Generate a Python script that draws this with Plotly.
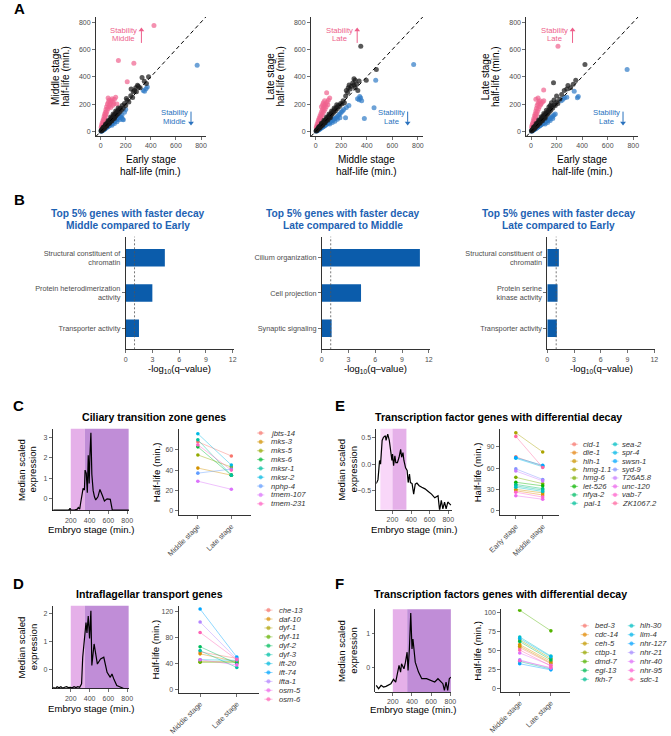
import math
import plotly.graph_objects as go

W, H = 671, 736
FONT = "Liberation Sans, Arial, Helvetica, sans-serif"

# ======================= DATA =======================
# ---- Panel A: half-life scatter (min.) ----
a1_black_x = [3,6,8,10,12,14,16,18,20,22,25,27,30,32,35,37,40,42,45,47,50,52,55,57,60,62,65,67,70,72,
              75,78,80,83,86,88,91,94,97,100,104,107,110,114,118,122,126,130,135,140,146,152,158,165,172,180,190,200,212,225,
              240,255,270,285,300,315,330,348,365,382,294,243,205,260,280,
              20,40,60,80,100,120,140,30,50,70,90,110]
a1_black_y = [5,4,10,8,14,11,18,15,24,19,28,24,34,29,40,33,45,39,51,44,57,49,62,54,68,59,73,63,79,68,
              84,73,90,79,96,84,101,89,108,95,116,101,122,108,130,115,140,124,150,132,160,142,172,155,190,170,205,190,228,215,
              262,248,300,290,330,320,395,368,350,400,339,311,241,290,320,
              30,55,80,105,128,150,172,22,40,58,76,94]
a1_pink_x = [425,142,265,212,5,8,10,12,15,18,20,22,25,28,30,33,35,38,40,43,45,48,50,55,58,62,65,70,72,78,
             85,92,100,110,60,120,95,130,80,105]
a1_pink_y = [775,520,500,363,30,45,25,60,40,75,55,90,70,110,85,125,100,140,115,160,130,180,145,200,165,215,180,230,195,210,
             225,240,215,235,245,250,190,200,175,200]
a1_blue_x = [769,362,350,372,340,181,5,8,12,15,18,22,25,28,32,35,40,45,50,55,60,65,70,75,80,85,90,95,100,105,
             110,115,120,125,130,135,140,150,160,165,170,150,130,110,90,190,200,175]
a1_blue_y = [485,313,295,325,300,85,2,3,5,8,9,12,15,14,18,22,24,28,30,35,38,40,45,48,52,58,60,65,68,72,
             75,80,85,88,95,92,100,105,110,100,118,85,70,58,45,140,160,90]

a2_black_x = [3,6,9,12,15,18,21,24,27,30,33,36,39,42,45,48,51,54,57,60,63,66,69,72,75,78,82,86,90,94,
              98,102,106,110,115,120,125,130,136,142,148,155,162,170,178,186,195,205,215,225,
              240,255,262,270,280,290,300,310,320,330,250,235,309,396,353,475,300,340,
              25,45,65,85,105,125,145,165,35,55,75,95,115]
a2_black_y = [4,8,7,13,16,17,23,22,30,29,36,34,42,41,49,46,55,52,62,58,68,64,75,70,82,76,88,84,97,92,
              106,100,115,108,124,118,135,128,148,140,160,152,175,168,190,182,205,200,225,210,
              300,320,340,310,330,355,340,320,345,300,285,260,375,375,623,453,385,370,
              35,60,82,105,128,150,172,195,28,46,64,82,100]
a2_pink_x = [86,5,8,10,12,15,18,20,23,26,29,32,35,38,41,44,47,50,54,58,62,66,70,74,78,82,60,45,90,95,70,100,110,55]
a2_pink_y = [283,28,40,22,55,38,70,50,85,65,100,80,115,95,130,108,145,120,160,135,175,150,190,165,200,180,210,180,215,195,225,230,245,195]
a2_blue_x = [767,470,457,381,234,328,340,352,360,345,5,10,15,20,25,30,35,40,45,50,55,60,65,70,75,80,85,90,95,100,
             105,110,115,120,125,130,135,140,150,160,170,180,190,200,210,150,130,110,170,190,220,240,260]
a2_blue_y = [490,375,174,94,101,240,232,245,225,255,2,5,7,10,14,16,20,23,27,30,33,36,40,42,46,50,52,56,60,62,
             66,70,72,76,80,84,88,90,95,100,110,120,130,140,150,75,65,55,90,100,160,175,190]

a3_black_x = [3,6,9,12,15,18,21,24,27,30,33,36,39,42,45,48,51,54,57,60,63,66,69,72,75,78,82,86,90,94,
              98,102,106,110,115,120,125,130,136,142,148,155,162,170,180,190,200,210,225,240,
              260,289,176,350,330,310,280,422,200,180,160,150,
              20,40,60,80,100,120,140,30,50,70,90,110]
a3_black_y = [5,4,11,10,18,16,25,22,32,28,39,34,46,40,53,46,60,52,67,58,74,64,81,70,88,76,96,84,105,92,
              114,100,122,108,130,118,140,128,152,140,165,155,180,172,195,190,215,205,235,270,
              300,336,356,375,345,320,310,490,260,230,210,190,
              32,58,84,108,132,155,178,24,42,60,78,96]
a3_pink_x = [211,99,38,55,5,8,10,12,15,18,20,22,25,28,30,33,35,38,40,43,45,48,50,55,58,62,65,70,75,80,90,100]
a3_pink_y = [623,303,235,245,30,45,25,60,40,78,55,95,70,115,85,130,100,150,115,170,130,190,145,205,165,215,180,225,195,205,215,225]
a3_blue_x = [752,338,363,262,237,370,250,280,5,10,15,20,25,30,35,40,45,50,55,60,65,70,75,80,85,90,95,100,105,110,
             115,120,125,130,140,150,160,170,180,190,110,130,150,170]
a3_blue_y = [453,295,247,247,224,255,235,250,2,5,8,11,14,17,20,24,27,30,34,37,40,44,47,50,54,57,60,64,67,70,
             74,77,80,84,90,96,104,112,120,128,55,65,80,95]

a_x_labels = ["Early stage", "Middle stage", "Early stage"]
a_y_labels = ["Middle stage", "Late stage", "Late stage"]
a_stab_labels = ["Middle", "Late", "Late"]
a_ticks = [0, 200, 400, 600, 800]

# ---- Panel B: GO enrichment ----
b_titles = ["Middle compared to Early", "Late compared to Middle", "Late compared to Early"]
b1_terms = ["Structural constituent of<br>chromatin", "Protein heterodimerization<br>activity", "Transporter activity"]
b1_vals = [4.4, 3.0, 1.5]
b2_terms = ["Cilium organization", "Cell projection", "Synaptic signaling"]
b2_vals = [11.0, 4.4, 1.1]
b3_terms = ["Structural constituent of<br>chromatin", "Protein serine<br>kinase activity", "Transporter activity"]
b3_vals = [1.3, 1.15, 1.07]
b_threshold = 1.0
b_ticks = [0, 3, 6, 9, 12]

# ---- Panels C-F: median scaled expression over embryo stage ----
c_stage = [15, 50, 90, 130, 170, 185, 192, 200, 240, 270, 280, 295, 305, 317, 331, 345, 352, 365, 376, 386,
           396, 403, 414, 424, 438, 452, 465, 489, 510, 534, 558, 586, 620, 641, 700, 760, 820]
c_expr = [-0.54, -0.55, -0.54, -0.55, -0.54, -0.52, -0.45, -0.53, -0.54, -0.50, -0.42, -0.50, -0.20, 0.27, 0.51, 0.43, 1.40, 1.24, 0.30, 2.12,
          0.75, 2.04, 3.22, 1.20, 0.40, 0.10, -0.05, 0.10, 0.46, 0.19, -0.10, 0.00, -0.02, -0.53, -0.54, -0.55, -0.55]
d_stage = [15, 35, 55, 75, 95, 115, 135, 155, 175, 195, 215, 235, 255, 275, 295, 315, 327, 345, 362, 372,
           386, 400, 414, 424, 448, 483, 517, 551, 586, 620, 638, 660, 689, 720, 758, 790, 820]
d_expr = [-0.62, -0.66, -0.60, -0.64, -0.60, -0.65, -0.62, -0.60, -0.63, -0.62, -0.64, -0.60, -0.63, -0.60, -0.62, -0.50, 0.44, 0.97, 1.67, 1.30,
          1.90, 1.10, 2.08, 0.15, 0.91, 0.20, 0.38, 0.44, -0.09, -0.27, -0.15, -0.35, -0.56, -0.60, -0.66, -0.68, -0.68]
e_stage = [26, 44, 54, 61, 72, 89, 103, 124, 131, 149, 166, 184, 194, 201, 212, 226, 236, 253, 271, 288,
           299, 313, 323, 341, 358, 369, 383, 393, 411, 428, 445, 463, 487, 515, 550, 585, 620, 655, 690, 707,
           725, 742, 760, 777, 795, 812, 829]
e_expr = [-0.37, -0.30, -0.09, 0.07, 0.00, 0.45, 0.51, 0.54, 0.45, 0.57, 0.45, 0.13, 0.07, 0.19, -0.03, 0.16, 0.03, 0.03, 0.13, 0.28,
          0.13, 0.22, 0.07, -0.07, -0.12, -0.35, -0.19, -0.35, -0.37, -0.57, -0.38, -0.36, -0.41, -0.44, -0.47, -0.52, -0.57, -0.64, -0.60, -0.88,
          -0.69, -0.85, -0.72, -0.85, -0.72, -0.75, -0.78]
f_stage = [27, 52, 78, 103, 129, 155, 180, 207, 230, 265, 281, 291, 316, 332, 349, 359, 373, 387, 400, 410,
           434, 468, 502, 552, 603, 637, 671, 722, 738, 755, 772, 789, 806]
f_expr = [-0.55, -0.65, -0.55, -0.60, -0.58, -0.55, -0.50, -0.37, -0.45, 0.05, -0.15, 0.10, -0.05, 0.15, 0.45, -0.10, 0.55, 1.63, 0.55, 0.85,
          0.15, -0.15, -0.35, -0.35, -0.40, -0.45, -0.35, -0.50, -0.70, -0.45, -0.70, -0.35, -0.30]

# stage windows (min.)
early_window = [70, 200]
middle_window = [200, 350]
late_window = [350, 830]

# ---- half-life per gene (min.) ----
c_genes = ["jbts-14", "mks-3", "mks-5", "mks-6", "mksr-1", "mksr-2", "nphp-4", "tmem-107", "tmem-231"]
c_first = [68, 42, 55, 63, 70, 76, 37, 29, 65]
c_second = [54, 35, 43, 35, 35, 45, 41, 21, 40]

d_genes = ["che-13", "daf-10", "dyf-1", "dyf-11", "dyf-2", "dyf-3", "ift-20", "ift-74", "ifta-1", "osm-5", "osm-6"]
d_first = [58, 55, 43, 42, 66, 60, 46, 124, 104, 46, 88]
d_second = [48, 43, 43, 42, 40, 34, 45, 50, 47, 38, 46]

e_genes = ["cid-1", "die-1", "hlh-1", "hmg-1.1", "hmg-6", "let-526", "nfya-2", "pal-1",
           "sea-2", "spr-4", "swsn-1", "syd-9", "T26A5.8", "unc-120", "vab-7", "ZK1067.2"]
e_first = [76, 28, 30, 110, 47, 40, 37, 35, 33, 74, 75, 59, 56, 21, 26, 105]
e_second = [63, 22, 25, 83, 38, 35, 31, 29, 27, 62, 64, 44, 42, 16, 19, 61]

f_genes = ["bed-3", "cdc-14", "ceh-5", "ctbp-1", "dmd-7", "egl-13", "fkh-7",
           "hlh-30", "lim-4", "nhr-127", "nhr-21", "nhr-40", "nhr-95", "sdc-1"]
f_first = [54, 58, 56, 64, 103, 62, 36, 68, 66, 33, 38, 47, 37, 51]
f_second = [33, 36, 34, 40, 76, 38, 26, 43, 42, 25, 27, 31, 28, 30]

# ======================= HELPERS =======================
def hcl_hex(h, c=100.0, l=65.0):
    hr = math.radians(h)
    U, V = c * math.cos(hr), c * math.sin(hr)
    Xn, Yn, Zn = 95.047, 100.0, 108.883
    Y = Yn * (((l + 16) / 116) ** 3 if l > 8 else l / 903.3)
    d = Xn + 15 * Yn + 3 * Zn
    un, vn = 4 * Xn / d, 9 * Yn / d
    u = U / (13 * l) + un
    v = V / (13 * l) + vn
    X = 9.0 * Y * u / (4 * v)
    Z = -X / 3 - 5 * Y + 3 * Y / v
    X, Y, Z = X / 100, Y / 100, Z / 100
    r = 3.240479 * X - 1.537150 * Y - 0.498535 * Z
    g = -0.969256 * X + 1.875992 * Y + 0.041556 * Z
    b = 0.055648 * X - 0.204043 * Y + 1.057311 * Z

    def gc(t):
        t = 12.92 * t if t <= 0.0031308 else 1.055 * t ** (1 / 2.4) - 0.055
        return int(round(max(0, min(1, t)) * 255))
    return "#%02X%02X%02X" % (gc(r), gc(g), gc(b))


def hue_pal(n):
    return [hcl_hex(15 + 360.0 * i / n) for i in range(n)]


def rgba(hx, a):
    hx = hx.lstrip("#")
    return "rgba(%d,%d,%d,%.2f)" % (int(hx[0:2], 16), int(hx[2:4], 16), int(hx[4:6], 16), a)


layout = dict(width=W, height=H, margin=dict(l=0, r=0, t=0, b=0),
              paper_bgcolor="white", plot_bgcolor="rgba(0,0,0,0)",
              showlegend=False, font=dict(family=FONT, color="#000"))
traces, shapes, annotations = [], [], []

AX = dict(showline=True, linecolor="black", linewidth=0.8, ticks="outside", ticklen=3,
          tickwidth=0.7, tickcolor="#333", showgrid=False, zeroline=False, fixedrange=True,
          tickfont=dict(size=7, color="#4D4D4D", family=FONT))
_n = [0]


def new_axes(xpx, ypx, xr, yr, xkw=None, ykw=None):
    _n[0] += 1
    k = _n[0]
    s = "" if k == 1 else str(k)
    xa = dict(AX)
    xa.update(domain=[xpx[0] / W, xpx[1] / W], range=xr, anchor="y" + s)
    if xkw:
        xa.update(xkw)
    ya = dict(AX)
    ya.update(domain=[1 - ypx[1] / H, 1 - ypx[0] / H], range=yr, anchor="x" + s)
    if ykw:
        ya.update(ykw)
    layout["xaxis" + s] = xa
    layout["yaxis" + s] = ya
    return "x" + s, "y" + s


def text(x, y, s, size=10, color="#000", bold=False, italic=False, angle=0, xanchor="center", yanchor="middle"):
    if bold:
        s = "<b>%s</b>" % s
    if italic:
        s = "<i>%s</i>" % s
    annotations.append(dict(x=x / W, y=1 - y / H, xref="paper", yref="paper", text=s, showarrow=False,
                            font=dict(size=size, color=color, family=FONT), textangle=angle,
                            xanchor=xanchor, yanchor=yanchor, borderpad=0))


PINK, BLUE = "#F0628E", "#2F7BC6"
PINK_T, BLUE_T = "#EE5F8B", "#2A72BE"
BAR_BLUE = "#0B5CAB"
TITLE_BLUE = "#1D62B3"
C_EARLY, C_MID, C_LATE = "#F9D7F9", "#E5B0E9", "#C08DD7"

# ======================= PANEL A =======================
A_XDOM = [(85.1, 198.4), (306.0, 421.3), (527.3, 642.6)]
A_YDOM = (17.1, 137.0)
A_XR, A_YR = [-38, 840], [-34, 838]
a_sets = [(a1_black_x, a1_black_y, a1_pink_x, a1_pink_y, a1_blue_x, a1_blue_y),
          (a2_black_x, a2_black_y, a2_pink_x, a2_pink_y, a2_blue_x, a2_blue_y),
          (a3_black_x, a3_black_y, a3_pink_x, a3_pink_y, a3_blue_x, a3_blue_y)]
for i, (bx, by, px_, py_, ux, uy) in enumerate(a_sets):
    xa, ya = new_axes(A_XDOM[i], A_YDOM, A_XR, A_YR,
                      xkw=dict(tickvals=a_ticks), ykw=dict(tickvals=a_ticks))
    traces.append(go.Scatter(x=px_, y=py_, mode="markers", xaxis=xa, yaxis=ya,
                             marker=dict(size=5, color=rgba(PINK, 0.7))))
    traces.append(go.Scatter(x=ux, y=uy, mode="markers", xaxis=xa, yaxis=ya,
                             marker=dict(size=5, color=rgba(BLUE, 0.7))))
    traces.append(go.Scatter(x=bx, y=by, mode="markers", xaxis=xa, yaxis=ya,
                             marker=dict(size=5, color="rgba(25,25,25,0.72)")))
    traces.append(go.Scatter(x=A_XR, y=A_XR, mode="lines", xaxis=xa, yaxis=ya,
                             line=dict(color="black", width=1, dash="4px,3px")))
    x0 = A_XDOM[i][0]
    cx = (A_XDOM[i][0] + A_XDOM[i][1]) / 2
    text(cx, 161, a_x_labels[i], size=10)
    text(cx, 172.5, "half-life (min.)", size=10)
    text(x0 - 41.5, 77, a_y_labels[i], size=10, angle=-90)
    text(x0 - 31.5, 77, "half-life (min.)", size=10, angle=-90)
    # stability labels (data coords)
    for s, yy in (("Stability", 737), (a_stab_labels[i], 678)):
        annotations.append(dict(x=186, y=yy, xref=xa, yref=ya, text=s, showarrow=False,
                                font=dict(size=7.7, color=PINK_T, family=FONT)))
    for s, yy in (("Stability", 142), (a_stab_labels[i], 76)):
        annotations.append(dict(x=590, y=yy, xref=xa, yref=ya, text=s, showarrow=False,
                                font=dict(size=7.7, color=BLUE_T, family=FONT)))
    # arrows: shaft + head
    shapes.append(dict(type="line", xref=xa, yref=ya, x0=325, x1=325, y0=648, y1=735,
                       line=dict(color=PINK_T, width=1)))
    traces.append(go.Scatter(x=[325], y=[742], mode="markers", xaxis=xa, yaxis=ya,
                             marker=dict(symbol="triangle-up", size=5, color=PINK_T)))
    shapes.append(dict(type="line", xref=xa, yref=ya, x0=720, x1=720, y0=145, y1=70,
                       line=dict(color=BLUE_T, width=1)))
    traces.append(go.Scatter(x=[720], y=[62], mode="markers", xaxis=xa, yaxis=ya,
                             marker=dict(symbol="triangle-down", size=5, color=BLUE_T)))

text(7, 9, "A", size=15, bold=True)
text(7, 201, "B", size=15, bold=True)

# ======================= PANEL B =======================
B_XDOM = [(115.7, 226.6), (317.3, 428.2), (549.0, 659.9)]
B_YDOM = (238.3, 351.7)
B_TITLE_X = [117.7, 339.0, 560.7]
b_sets = [(b1_terms, b1_vals), (b2_terms, b2_vals), (b3_terms, b3_vals)]
for i, (terms, vals) in enumerate(b_sets):
    pos = [len(terms) - k for k in range(len(terms))]
    xa, ya = new_axes(B_XDOM[i], B_YDOM, [0, 12.1], [0.4, 3.6],
                      xkw=dict(tickvals=b_ticks),
                      ykw=dict(tickvals=pos, ticktext=terms,
                               tickfont=dict(size=7.3, color="#4D4D4D", family=FONT)))
    traces.append(go.Bar(x=vals, y=pos, orientation="h", width=0.5, xaxis=xa, yaxis=ya,
                         marker=dict(color=BAR_BLUE, line=dict(width=0))))
    shapes.append(dict(type="line", xref=xa, yref=ya + " domain", x0=b_threshold, x1=b_threshold,
                       y0=0, y1=1, line=dict(color="#555", width=0.8, dash="2px,2px")))
    text(B_TITLE_X[i], 215, "Top 5% genes with faster decay", size=10.2, color=TITLE_BLUE, bold=True)
    text(B_TITLE_X[i], 227.5, b_titles[i], size=10.2, color=TITLE_BLUE, bold=True)
    text((B_XDOM[i][0] + B_XDOM[i][1]) / 2, 372, "-log<sub>10</sub>(q\u2013value)", size=9.5)

# ======================= PANELS C-F =======================
def line_panel(xdom, ydom, xr, yr, yticks, stage, expr, windows, ytickformat=None):
    ykw = dict(tickvals=yticks)
    if ytickformat:
        ykw["tickformat"] = ytickformat
    xa, ya = new_axes(xdom, ydom, xr, yr, xkw=dict(tickvals=[200, 400, 600, 800]), ykw=ykw)
    for (w0, w1), col in windows:
        shapes.append(dict(type="rect", xref=xa, yref=ya + " domain", x0=w0, x1=min(w1, xr[1]),
                           y0=0, y1=1, fillcolor=col, line=dict(width=0), layer="below"))
    traces.append(go.Scatter(x=stage, y=expr, mode="lines", xaxis=xa, yaxis=ya,
                             line=dict(color="black", width=1.2)))
    cx = (xdom[0] + xdom[1]) / 2
    cy = (ydom[0] + ydom[1]) / 2
    return cx, cy


def half_panel(xdom, ydom, xr, yr, yticks, labels, genes, first, second):
    xa, ya = new_axes(xdom, ydom, xr, yr,
                      xkw=dict(tickvals=[1, 2], ticktext=labels, tickangle=-45,
                               tickfont=dict(size=7.4, color="#4D4D4D", family=FONT)),
                      ykw=dict(tickvals=yticks))
    cols = hue_pal(len(genes))
    for g, a, b, col in zip(genes, first, second, cols):
        traces.append(go.Scatter(x=[1, 2], y=[a, b], mode="lines+markers", xaxis=xa, yaxis=ya,
                                 line=dict(color=rgba(col, 0.55), width=0.8),
                                 marker=dict(color=col, size=3.6)))
    return (ydom[0] + ydom[1]) / 2, cols


legend_items = []  # (genes, colors, columns, y0, dy, per_col)

# C
cx, cy = line_panel((40.7, 119.0), (431.7, 514.0), [7, 817], [-0.565, 3.41], [0, 1, 2, 3],
                    c_stage, c_expr, [(middle_window, C_MID), (late_window, C_LATE)])
text(cx, 533, "Embryo stage (min.)", size=9.6)
text(8.5, cy, "Median scaled", size=9.6, angle=-90)
text(20.5, cy, "expression", size=9.6, angle=-90)
hy, cols = half_panel((170.0, 245.0), (431.7, 519.0), [0.42, 2.6], [-4.9, 80.9], [0, 20, 40, 60],
                      ["Middle stage", "Late stage"], c_genes, c_first, c_second)
text(147, hy, "Half-life (min.)", size=9.6, angle=-90)
legend_items.append((c_genes, cols, [(250.7, 258.3, 264.0)], 436.0, 8.9, 99))
text(6, 408, "C", size=15, bold=True)
text(144.7, 419.5, "Ciliary transition zone genes", size=10.6, bold=True)

# D
cx, cy = line_panel((40.7, 119.0), (610.0, 693.3), [7, 817], [-0.667, 2.256], [0, 1, 2],
                    d_stage, d_expr, [(middle_window, C_MID), (late_window, C_LATE)])
text(cx, 713, "Embryo stage (min.)", size=9.6)
text(8.5, cy, "Median scaled", size=9.6, angle=-90)
text(20.5, cy, "expression", size=9.6, angle=-90)
hy, cols = half_panel((170.0, 252.6), (610.0, 697.7), [0.41, 2.6], [-5.2, 128.9], [0, 40, 80, 120],
                      ["Middle stage", "Late stage"], d_genes, d_first, d_second)
text(146, hy, "Half-life (min.)", size=9.6, angle=-90)
legend_items.append((d_genes, cols, [(258.3, 266.7, 272.5)], 614.3, 8.97, 99))
text(6, 587, "D", size=15, bold=True)
text(140, 598, "Intraflagellar transport genes", size=10.6, bold=True)

# E
cx, cy = line_panel((373.3, 450.7), (431.7, 513.3), [26, 836], [-0.868, 0.672], [-0.5, 0.0, 0.5],
                    e_stage, e_expr, [(early_window, C_EARLY), (middle_window, C_MID)], ytickformat=".1f")
text(cx, 533, "Embryo stage (min.)", size=9.6)
text(337.5, cy, "Median scaled", size=9.6, angle=-90)
text(349.5, cy, "expression", size=9.6, angle=-90)
hy, cols = half_panel((500.1, 560.9), (431.7, 519.0), [0.4, 2.6], [-7, 115.8], [0, 30, 60, 90],
                      ["Early stage", "Middle stage"], e_genes, e_first, e_second)
text(477, hy, "Half-life (min.)", size=9.6, angle=-90)
legend_items.append((e_genes, cols, [(572.7, 580.7, 585.0), (615.0, 622.3, 624.5)], 447.3, 8.49, 8))
text(336, 408, "E", size=15, bold=True)
text(498.7, 420, "Transcription factor genes with differential decay", size=10.6, bold=True)

# F
cx, cy = line_panel((372.3, 450.0), (613.3, 696.7), [17.5, 806], [-0.75, 1.75], [0, 1],
                    f_stage, f_expr, [(middle_window, C_MID), (late_window, C_LATE)])
text(cx, 714, "Embryo stage (min.)", size=9.6)
text(337.5, cy, "Median scaled", size=9.6, angle=-90)
text(349.5, cy, "expression", size=9.6, angle=-90)
hy, cols = half_panel((501.5, 571.9), (613.3, 696.7), [0.4, 2.6], [-3.9, 104.4], [0, 25, 50, 75, 100],
                      ["Middle stage", "Late stage"], f_genes, f_first, f_second)
text(477, hy, "Half-life (min.)", size=9.6, angle=-90)
legend_items.append((f_genes, cols, [(583.3, 591.7, 596.7), (631.7, 639.3, 643.3)], 630.0, 9.0, 7))
text(336, 587, "F", size=15, bold=True)
text(500.5, 598, "Transcription factors genes with differential decay", size=10.6, bold=True)

# ======================= LEGENDS (pixel overlay) =======================
ox, oy = new_axes((0, W), (0, H), [0, W], [H, 0],
                  xkw=dict(visible=False), ykw=dict(visible=False))
for genes, cols, columns, y0, dy, per_col in legend_items:
    for k, (g, col) in enumerate(zip(genes, cols)):
        c = k // per_col
        r = k % per_col
        l0, l1, tx = columns[c]
        ry = y0 + r * dy
        traces.append(go.Scatter(x=[l0, (l0 + l1) / 2, l1], y=[ry, ry, ry], mode="lines+markers",
                                 xaxis=ox, yaxis=oy,
                                 line=dict(color=rgba(col, 0.55), width=0.8),
                                 marker=dict(color=col, size=[0, 3.6, 0])))
        text(tx, ry, g, size=7.7, color="#333", italic=True, xanchor="left")

layout["shapes"] = shapes
layout["annotations"] = annotations
fig = go.Figure(data=traces, layout=layout)
fig.write_html("out.html", config={"displayModeBar": False, "staticPlot": True},
               post_script="document.body.style.margin='0';document.body.style.overflow='hidden';")
